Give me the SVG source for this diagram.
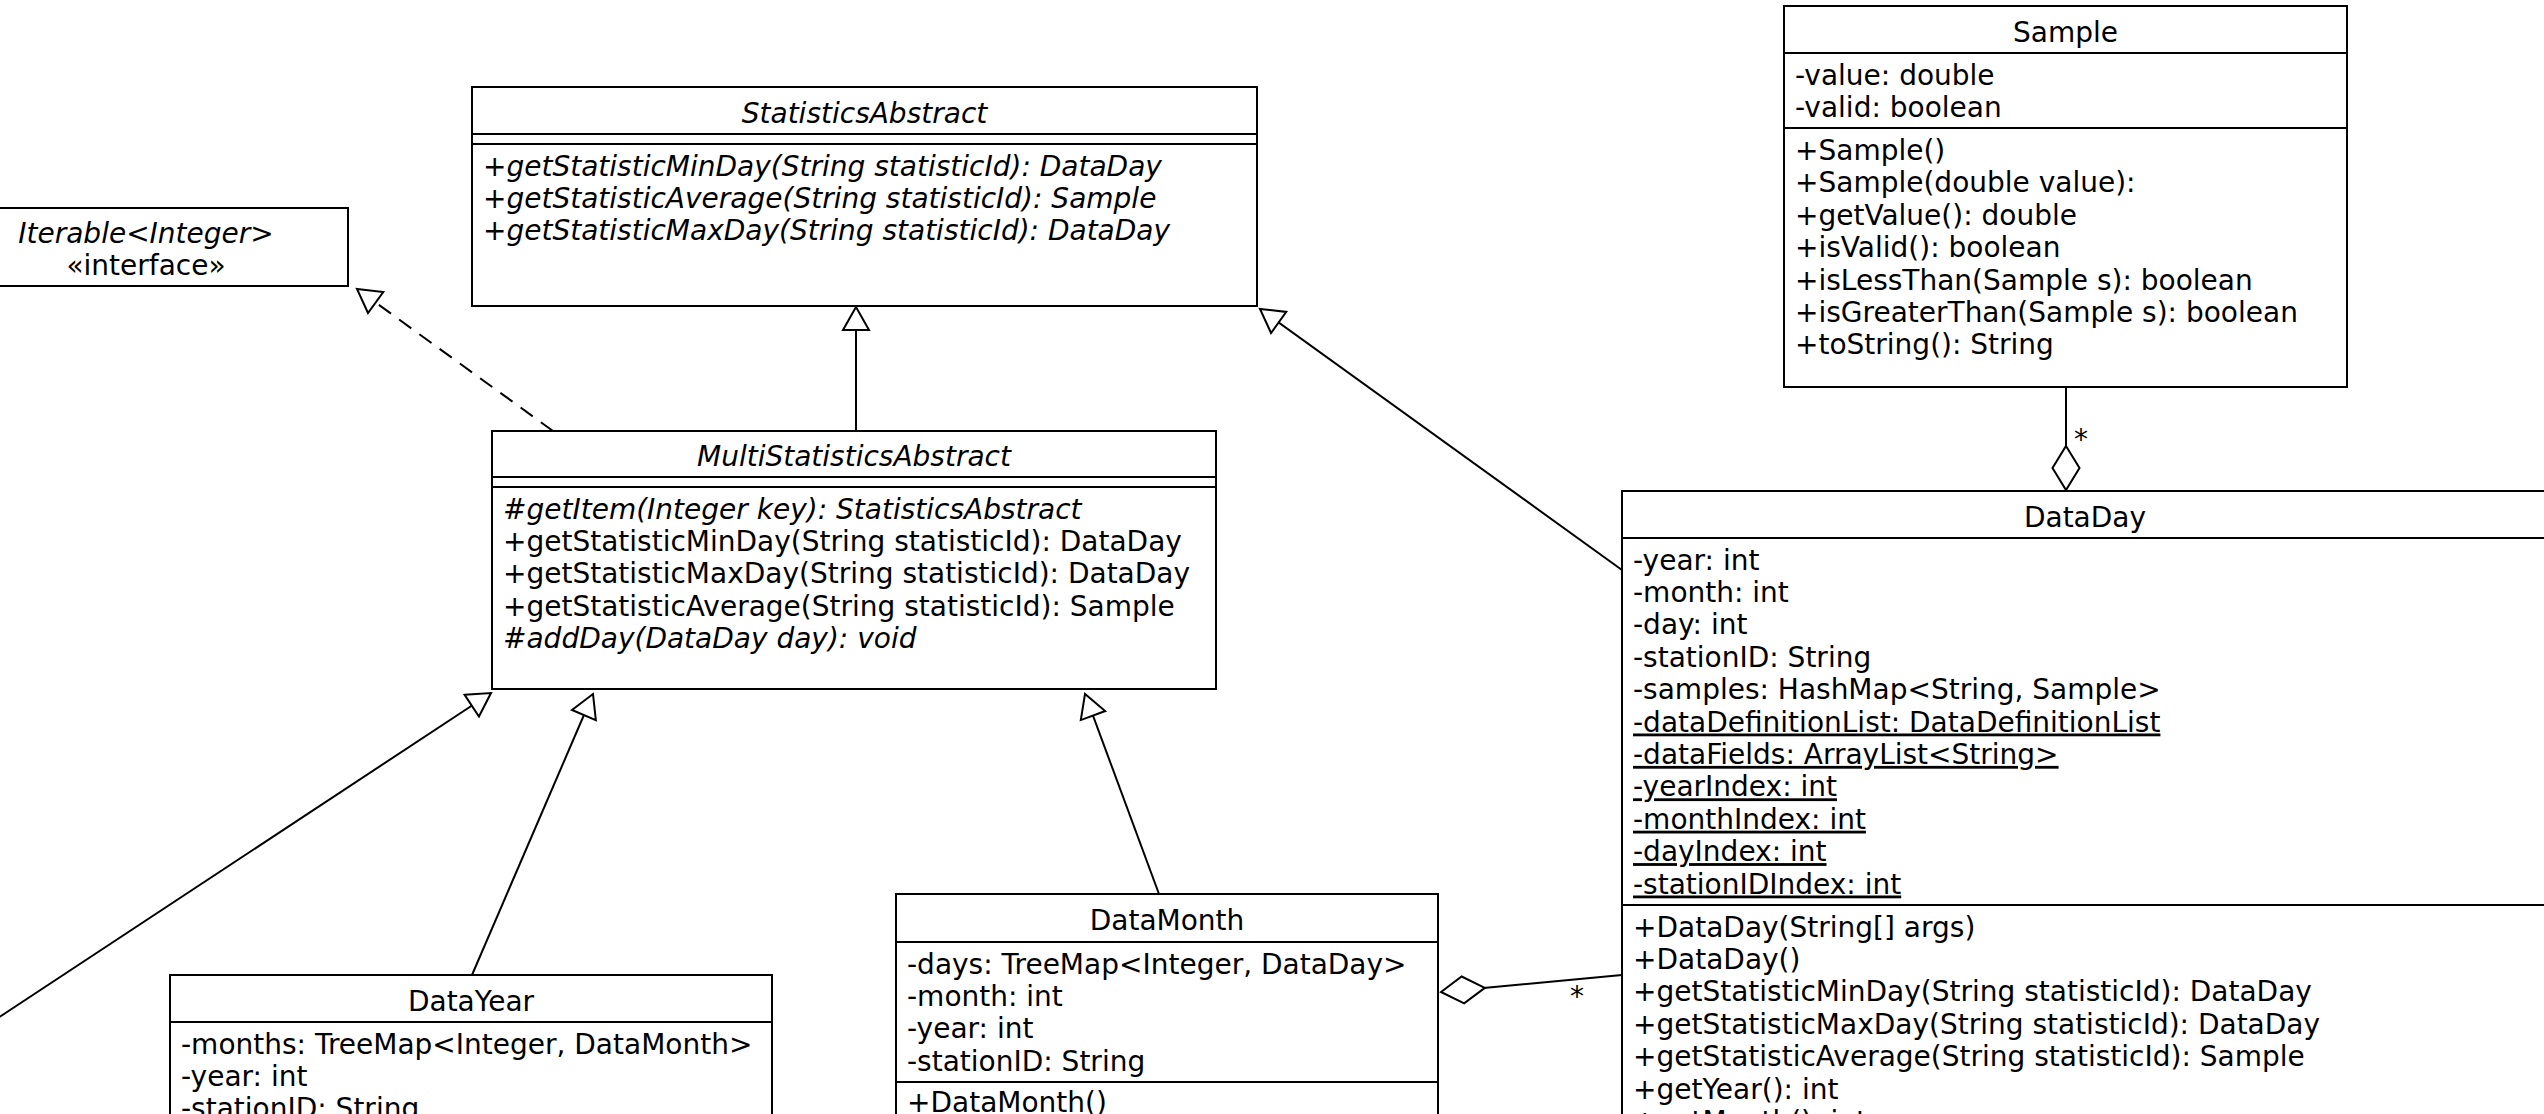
<svg xmlns="http://www.w3.org/2000/svg" width="2544" height="1114" viewBox="0 0 2544 1114">
<style>
text{font-family:"DejaVu Sans","Liberation Sans",sans-serif;font-size:28px;fill:#000}
.t{text-anchor:middle}
.i{font-style:italic}
.u{text-decoration:underline}
.box{fill:#fff;stroke:#000;stroke-width:2}
.sep{stroke:#000;stroke-width:2}
.ln{fill:none;stroke:#000;stroke-width:2}
.dash{stroke-dasharray:15 10}
</style>
<defs>
<marker id="gen" viewBox="-2 -2 28 32" refX="23" refY="14" markerWidth="28" markerHeight="32" orient="auto" markerUnits="userSpaceOnUse">
<path d="M0,1 L23,14 L0,27 Z" fill="#fff" stroke="#000" stroke-width="2"/>
</marker>
<marker id="agg" viewBox="-2 -2 48 32" refX="44" refY="14" markerWidth="48" markerHeight="32" orient="auto" markerUnits="userSpaceOnUse">
<path d="M0,14 L22,0.5 L44,14 L22,27.5 Z" fill="#fff" stroke="#000" stroke-width="2"/>
</marker>
</defs>
<rect width="2544" height="1114" fill="#fff"/>

<g id="connectors">
<line class="ln dash" x1="553" y1="431" x2="357" y2="289" marker-end="url(#gen)"/>
<line class="ln" x1="856" y1="431" x2="856" y2="307" marker-end="url(#gen)"/>
<line class="ln" x1="1622" y1="570" x2="1260" y2="309" marker-end="url(#gen)"/>
<line class="ln" x1="-40" y1="1043" x2="491" y2="693" marker-end="url(#gen)"/>
<line class="ln" x1="472" y1="975" x2="593" y2="694" marker-end="url(#gen)"/>
<line class="ln" x1="1159" y1="894" x2="1085" y2="694" marker-end="url(#gen)"/>
<line class="ln" x1="2066" y1="387" x2="2066" y2="490" marker-end="url(#agg)"/>
<line class="ln" x1="1622" y1="975" x2="1441" y2="992" marker-end="url(#agg)"/>
<text x="2081" y="449" class="t">*</text>
<text x="1577" y="1006" class="t">*</text>
</g>

<g id="Iterable">
<rect class="box" x="-56" y="208" width="404" height="78"/>
<text x="146" y="243" class="t i">Iterable&lt;Integer&gt;</text>
<text x="146" y="275" class="t">«interface»</text>
</g>

<g id="StatisticsAbstract">
<rect class="box" x="472" y="87" width="785" height="219"/>
<line class="sep" x1="472" y1="134" x2="1257" y2="134"/>
<line class="sep" x1="472" y1="144" x2="1257" y2="144"/>
<text x="864.5" y="122.5" class="t i">StatisticsAbstract</text>
<text x="483" y="175.5" class="i">+getStatisticMinDay(String statisticId): DataDay</text>
<text x="483" y="207.9" class="i">+getStatisticAverage(String statisticId): Sample</text>
<text x="483" y="240.3" class="i">+getStatisticMaxDay(String statisticId): DataDay</text>
</g>

<g id="MultiStatisticsAbstract">
<rect class="box" x="492" y="431" width="724" height="258"/>
<line class="sep" x1="492" y1="477" x2="1216" y2="477"/>
<line class="sep" x1="492" y1="487" x2="1216" y2="487"/>
<text x="854" y="466" class="t i">MultiStatisticsAbstract</text>
<text x="503" y="518.5" class="i">#getItem(Integer key): StatisticsAbstract</text>
<text x="503" y="551">+getStatisticMinDay(String statisticId): DataDay</text>
<text x="503" y="583.4">+getStatisticMaxDay(String statisticId): DataDay</text>
<text x="503" y="615.8">+getStatisticAverage(String statisticId): Sample</text>
<text x="503" y="648.2" class="i">#addDay(DataDay day): void</text>
</g>

<g id="Sample">
<rect class="box" x="1784" y="6" width="563" height="381"/>
<line class="sep" x1="1784" y1="53" x2="2347" y2="53"/>
<line class="sep" x1="1784" y1="128" x2="2347" y2="128"/>
<text x="2065.5" y="41.5" class="t">Sample</text>
<text x="1795" y="85">-value: double</text>
<text x="1795" y="117.4">-valid: boolean</text>
<text x="1795" y="160">+Sample()</text>
<text x="1795" y="192.4">+Sample(double value):</text>
<text x="1795" y="224.8">+getValue(): double</text>
<text x="1795" y="257.2">+isValid(): boolean</text>
<text x="1795" y="289.6">+isLessThan(Sample s): boolean</text>
<text x="1795" y="322">+isGreaterThan(Sample s): boolean</text>
<text x="1795" y="354.4">+toString(): String</text>
</g>

<g id="DataDay">
<rect class="box" x="1622" y="491" width="926" height="700"/>
<line class="sep" x1="1622" y1="538" x2="2548" y2="538"/>
<line class="sep" x1="1622" y1="905" x2="2548" y2="905"/>
<text x="2085" y="526.5" class="t">DataDay</text>
<text x="1633" y="569.5">-year: int</text>
<text x="1633" y="601.9">-month: int</text>
<text x="1633" y="634.3">-day: int</text>
<text x="1633" y="666.7">-stationID: String</text>
<text x="1633" y="699.1">-samples: HashMap&lt;String, Sample&gt;</text>
<text x="1633" y="731.5" class="u">-dataDefinitionList: DataDefinitionList</text>
<text x="1633" y="763.9" class="u">-dataFields: ArrayList&lt;String&gt;</text>
<text x="1633" y="796.3" class="u">-yearIndex: int</text>
<text x="1633" y="828.7" class="u">-monthIndex: int</text>
<text x="1633" y="861.1" class="u">-dayIndex: int</text>
<text x="1633" y="893.5" class="u">-stationIDIndex: int</text>
<text x="1633" y="936.5">+DataDay(String[] args)</text>
<text x="1633" y="968.9">+DataDay()</text>
<text x="1633" y="1001.3">+getStatisticMinDay(String statisticId): DataDay</text>
<text x="1633" y="1033.7">+getStatisticMaxDay(String statisticId): DataDay</text>
<text x="1633" y="1066.1">+getStatisticAverage(String statisticId): Sample</text>
<text x="1633" y="1098.5">+getYear(): int</text>
<text x="1633" y="1130.9">+getMonth(): int</text>
</g>

<g id="DataMonth">
<rect class="box" x="896" y="894" width="542" height="300"/>
<line class="sep" x1="896" y1="942" x2="1438" y2="942"/>
<line class="sep" x1="896" y1="1082" x2="1438" y2="1082"/>
<text x="1167" y="930" class="t">DataMonth</text>
<text x="907" y="973.5">-days: TreeMap&lt;Integer, DataDay&gt;</text>
<text x="907" y="1005.9">-month: int</text>
<text x="907" y="1038.3">-year: int</text>
<text x="907" y="1070.7">-stationID: String</text>
<text x="907" y="1112">+DataMonth()</text>
</g>

<g id="DataYear">
<rect class="box" x="170" y="975" width="602" height="300"/>
<line class="sep" x1="170" y1="1022" x2="772" y2="1022"/>
<text x="471" y="1010.5" class="t">DataYear</text>
<text x="181" y="1053.5">-months: TreeMap&lt;Integer, DataMonth&gt;</text>
<text x="181" y="1085.9">-year: int</text>
<text x="181" y="1118.3">-stationID: String</text>
</g>
</svg>
